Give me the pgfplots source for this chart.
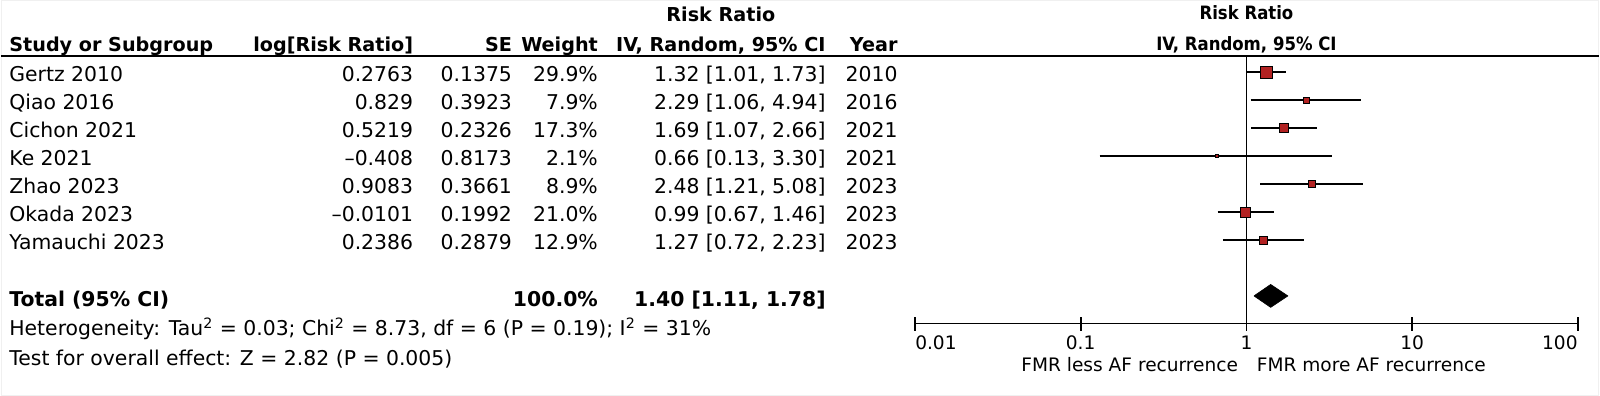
\documentclass[border=0pt]{standalone}
\usepackage{fontspec}
\setmainfont{DejaVu Sans}
\newfontfamily\condfont{DejaVu Sans Condensed}
\usepackage{pgfplots}
\pgfplotsset{compat=1.18}
\definecolor{rrred}{RGB}{178,34,34}
\newcommand{\rowtext}[7]{%
 \pgfmathsetmacro{\yy}{-(72.3+28*(#1-1))*0.5-4.6}%
 \node[anchor=base west,inner sep=0pt] at (4pt,\yy pt) {#2};
 \node[anchor=base east,inner sep=0pt] at (206.5pt,\yy pt) {#3};
 \node[anchor=base east,inner sep=0pt] at (256pt,\yy pt) {#4};
 \node[anchor=base east,inner sep=0pt] at (299pt,\yy pt) {#5};
 \node[anchor=base east,inner sep=0pt] at (413pt,\yy pt) {#6};
 \node[anchor=base east,inner sep=0pt] at (449pt,\yy pt) {#7};
}
\begin{document}
\begin{tikzpicture}
\fontsize{10.2pt}{12pt}\selectfont
\path (0,0) rectangle (800pt,-198pt);
\draw[gray!12, line width=0.5pt] (0.25pt,-0.25pt) rectangle (799.75pt,-197.75pt);
% header
\draw[black, line width=1pt] (0,-28pt) -- (800pt,-28pt);
\begin{scope}[font=\fontsize{9.6pt}{11pt}\selectfont\bfseries]
\node[anchor=base west,inner sep=0pt] at (4pt,-25.6pt) {Study or Subgroup};
\node[anchor=base east,inner sep=0pt] at (206.5pt,-25.6pt) {log[Risk Ratio]};
\node[anchor=base east,inner sep=0pt] at (256pt,-25.6pt) {SE};
\node[anchor=base east,inner sep=0pt] at (299pt,-25.6pt) {Weight};
\node[anchor=base east,inner sep=0pt] (iv) at (413pt,-25.6pt) {IV, Random, 95\% CI};
\node[anchor=base,inner sep=0pt] at ([yshift=15pt]iv.base) {Risk Ratio};
\node[anchor=base east,inner sep=0pt] at (449pt,-25.6pt) {Year};
\end{scope}
\rowtext{1}{Gertz 2010}{0.2763}{0.1375}{29.9\%}{1.32 [1.01, 1.73]}{2010}
\rowtext{2}{Qiao 2016}{0.829}{0.3923}{7.9\%}{2.29 [1.06, 4.94]}{2016}
\rowtext{3}{Cichon 2021}{0.5219}{0.2326}{17.3\%}{1.69 [1.07, 2.66]}{2021}
\rowtext{4}{Ke 2021}{--0.408}{0.8173}{2.1\%}{0.66 [0.13, 3.30]}{2021}
\rowtext{5}{Zhao 2023}{0.9083}{0.3661}{8.9\%}{2.48 [1.21, 5.08]}{2023}
\rowtext{6}{Okada 2023}{--0.0101}{0.1992}{21.0\%}{0.99 [0.67, 1.46]}{2023}
\rowtext{7}{Yamauchi 2023}{0.2386}{0.2879}{12.9\%}{1.27 [0.72, 2.23]}{2023}
\begin{scope}[yshift=-0.6pt]
\rowtext{9}{\textbf{Total (95\% CI)}}{}{}{\textbf{100.0\%}}{\textbf{1.40 [1.11, 1.78]}}{}
\end{scope}
\node[anchor=base west,inner sep=0pt] at (4pt,-168.1pt) {Heterogeneity: Tau\textsuperscript{2} = 0.03; Chi\textsuperscript{2} = 8.73, df = 6 (P = 0.19); I\textsuperscript{2} = 31\%};
\node[anchor=base west,inner sep=0pt] at (4pt,-183.1pt) {Test for overall effect: Z = 2.82 (P = 0.005)};
% right headers
\begin{scope}[font=\fontsize{9.2pt}{10pt}\condfont\bfseries]
\node[anchor=base,inner sep=0pt] at (623.5pt,-9.9pt) {Risk Ratio};
\node[anchor=base,inner sep=0pt] at (623.5pt,-25.1pt) {IV, Random, 95\% CI};
\end{scope}
\begin{axis}[
  at={(457.5pt,-162pt)}, anchor=south west,
  width=332pt, height=134pt, scale only axis,
  xmode=log, log basis x=10,
  xmin=0.01, xmax=100, ymin=-9.99, ymax=-0.418,
  axis x line*=bottom, axis y line=none,
  xtick={0.01,0.1,1,10,100}, xticklabels={},
  minor xtick={}, xminorticks=false,
  tick align=center, major tick length=7pt,
  x axis line style={-, line width=0.9pt},
  every tick/.style={black, line width=0.9pt},
  clip=false,
]
\draw[black, line width=0.75pt] (axis cs:1,-0.418) -- (axis cs:1,-9.99);
% confidence intervals
\addplot[black, line width=0.75pt] coordinates {(1.01,-1) (1.73,-1)};
\addplot[black, line width=0.75pt] coordinates {(1.06,-2) (4.94,-2)};
\addplot[black, line width=0.75pt] coordinates {(1.07,-3) (2.66,-3)};
\addplot[black, line width=0.75pt] coordinates {(0.13,-4) (3.30,-4)};
\addplot[black, line width=0.75pt] coordinates {(1.21,-5) (5.08,-5)};
\addplot[black, line width=0.75pt] coordinates {(0.67,-6) (1.46,-6)};
\addplot[black, line width=0.75pt] coordinates {(0.72,-7) (2.23,-7)};
% point estimates (size by weight)
\addplot[only marks, mark=square*, mark size=3.0pt, mark options={draw=none, fill=rrred}] coordinates {(1.32,-1)};
\addplot[only marks, mark=square*, mark size=1.54pt, mark options={draw=none, fill=rrred}] coordinates {(2.29,-2)};
\addplot[only marks, mark=square*, mark size=2.28pt, mark options={draw=none, fill=rrred}] coordinates {(1.69,-3)};
\addplot[only marks, mark=square*, mark size=0.8pt, mark options={draw=none, fill=rrred}] coordinates {(0.66,-4)};
\addplot[only marks, mark=square*, mark size=1.63pt, mark options={draw=none, fill=rrred}] coordinates {(2.48,-5)};
\addplot[only marks, mark=square*, mark size=2.52pt, mark options={draw=none, fill=rrred}] coordinates {(0.99,-6)};
\addplot[only marks, mark=square*, mark size=1.97pt, mark options={draw=none, fill=rrred}] coordinates {(1.27,-7)};
% overall diamond
\addplot[fill=black, draw=black, line width=0.3pt] coordinates {(1.11,-9) (1.40,-8.59) (1.78,-9) (1.40,-9.41) (1.11,-9)};
% tick labels
\begin{scope}[font=\fontsize{9.3pt}{11pt}\selectfont]
\node[anchor=west,inner sep=0pt] at (axis cs:0.01,-10.67) {0.01};
\node[inner sep=0pt] at (axis cs:0.1,-10.67) {0.1};
\node[inner sep=0pt] at (axis cs:1,-10.67) {1};
\node[inner sep=0pt] at (axis cs:10,-10.67) {10};
\node[anchor=east,inner sep=0pt] at (axis cs:100,-10.67) {100};
\node[anchor=east,inner sep=0pt] at (axis cs:0.895,-11.45) {FMR less AF recurrence};
\node[anchor=west,inner sep=0pt] at (axis cs:1.149,-11.45) {FMR more AF recurrence};
\end{scope}
\end{axis}
\end{tikzpicture}
\end{document}
